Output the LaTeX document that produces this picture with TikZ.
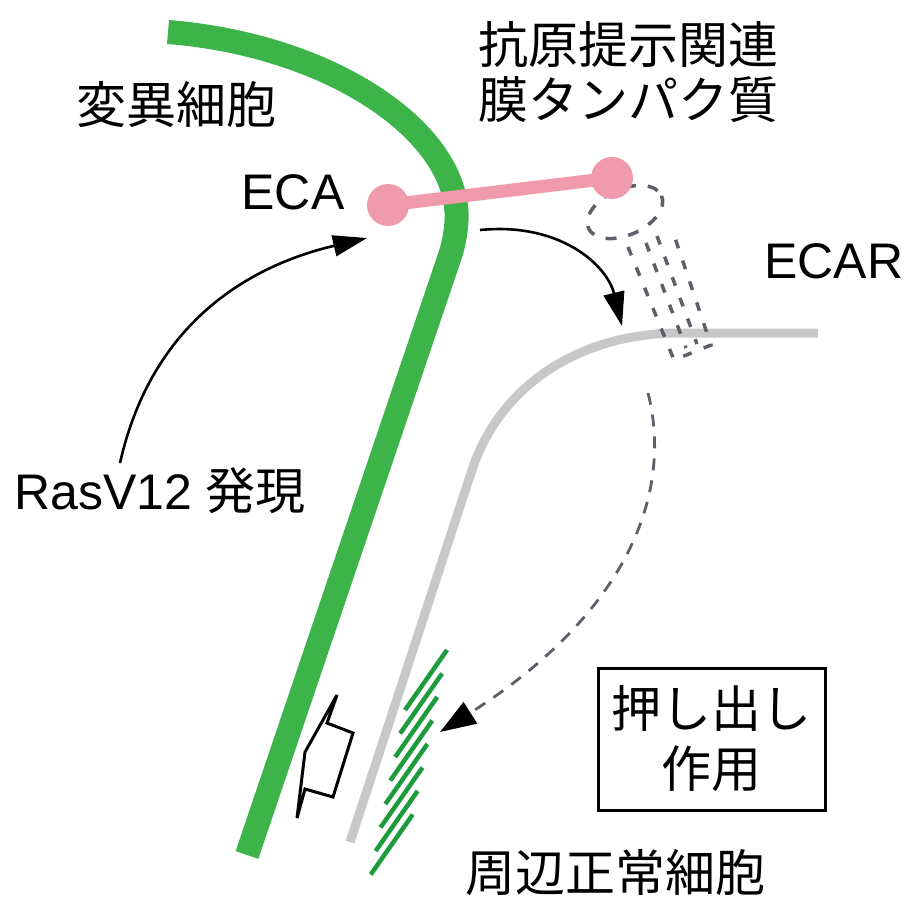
\documentclass[tikz,border=0pt]{standalone}
\usepackage{fontspec}
\setmainfont{Liberation Sans}
\newfontfamily\jp{Noto Sans CJK JP}
\usetikzlibrary{arrows.meta}

\definecolor{cellgreen}{RGB}{60,180,74}
\definecolor{hatchgreen}{RGB}{30,155,60}
\definecolor{membranegray}{RGB}{200,200,200}
\definecolor{ghostgray}{RGB}{95,95,105}
\definecolor{ecapink}{RGB}{240,155,172}

\tikzset{
  lbl/.style={font=\fontsize{50}{55}\selectfont, inner sep=0pt, align=center},
  bigtip/.style={-{Triangle[length=34pt,width=21pt]}},
  ghost/.style={draw=ghostgray, line width=3.5pt, dash pattern=on 9pt off 13pt},
  hatch/.style={draw=hatchgreen, line width=4.5pt},
}

\begin{document}
\begin{tikzpicture}[x=1pt,y=-1pt]
\useasboundingbox (0,0) rectangle (908,898);

% mutant cell membrane (thick green)
\draw[cellgreen, line width=24pt, rounded corners=20pt]
  (168,32) .. controls (330,45) and (455,130) .. (457,235) -- (247,855);

% neighbouring normal cell membrane (light gray)
\draw[membranegray, line width=9pt]
  (818,333) -- (680,333) .. controls (580,333) and (500,385) .. (472,470) -- (350,842);

% ghost of the transferred ECA (dashed cylinder)
\path[ghost, dash pattern=on 11pt off 12pt] [rotate around={24:(625,212)}] (625,212) ellipse [x radius=40, y radius=23];
\draw[ghost] (628,247) -- (674,360) -- (711,345) -- (673,232);
\draw[ghost] (646,243) -- (686,348);
\draw[ghost] (657,236) -- (697,344);

% ECA protein
\coordinate (ecaL) at (388,205);
\coordinate (ecaR) at (612,178);
\draw[ecapink, line width=13pt] (ecaL) -- (ecaR);
\fill[ecapink] (ecaL) circle (21);
\fill[ecapink] (ecaR) circle (21);

% hatching on the normal cell
\foreach \i in {0,...,7}{
  \pgfmathsetmacro{\dy}{\i*23.5}
  \pgfmathsetmacro{\dx}{-\i*4.9}
  \draw[hatch] (405+\dx,710+\dy) -- (447+\dx,650+\dy);
}

% extrusion symbol
\draw[black, line width=3pt, line join=miter]
  (337,695) -- (327,723) -- (353,733) -- (333,797) -- (305,789) -- (297,818) -- (305,752) -- cycle;

% labels
\node[lbl] (mutant) at (176,105) {\jp 変異細胞};
\node[lbl] (antigen) at (628,72) {\jp 抗原提示関連\\\jp 膜タンパク質};
\node[lbl] (eca) at (293,192) {ECA};
\node[lbl] (ecar) at (834,261) {ECAR};
\node[lbl] (ras) at (160,491) {RasV12 {\jp 発現}};
\node[lbl] (normal) at (615,873) {\jp 周辺正常細胞};
\node[lbl, draw, line width=3pt, minimum width=227pt, minimum height=142pt,
      font=\fontsize{50}{60}\selectfont] (push) at (711.5,739) {\jp 押し出し\\\jp 作用};

% connectors
\coordinate (rasStart) at (120,463);
\coordinate (rasEnd) at (367,238);
\draw[line width=2.6pt, bigtip] (rasStart) .. controls (150,330) and (240,268) .. (rasEnd);

\coordinate (moveStart) at (480,230);
\coordinate (moveEnd) at (622,326);
\draw[line width=2.6pt, bigtip] (moveStart) .. controls (560,222) and (607,265) .. (moveEnd);

\coordinate (pushStart) at (648,393);
\coordinate (pushEnd) at (440,732);
\draw[ghostgray, line width=2.8pt, dash pattern=on 12pt off 10pt,
      -{Triangle[length=36pt,width=25pt,fill=black,color=black]}]
  (pushStart) .. controls (674,495) and (625,615) .. (pushEnd);
\end{tikzpicture}
\end{document}
